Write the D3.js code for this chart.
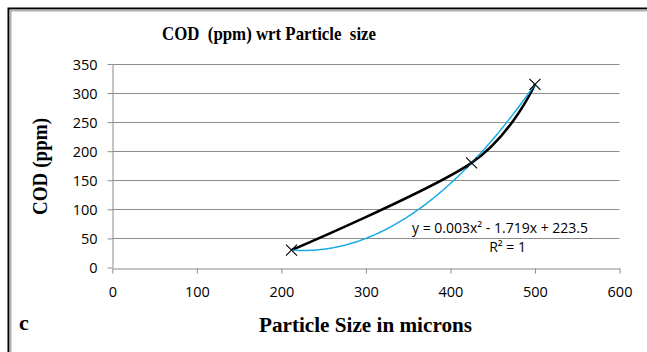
<!DOCTYPE html>
<html><head><meta charset="utf-8">
<script src="https://cdn.jsdelivr.net/npm/d3@7"></script>
<style>html,body{margin:0;padding:0;background:#fff;}svg{display:block;}</style>
</head><body>
<svg id="c" width="647" height="352"></svg>
<script>
const particleSize = [212, 425, 500];
const codValues = [30, 180, 315];
const xTicks = [0, 100, 200, 300, 400, 500, 600];
const yTicks = [0, 50, 100, 150, 200, 250, 300, 350];
const titleText = "COD  (ppm) wrt Particle  size";
const xTitle = "Particle Size in microns";
const yTitle = "COD (ppm)";
const panelLabel = "c";
const eqLabels = ["y = 0.003x\u00b2 - 1.719x + 223.5", "R\u00b2 = 1"];

const svg = d3.select("#c");
const W = 647, H = 352;
const serif = "'Liberation Serif','Times New Roman',serif";
const sans = "'Open Sans','Liberation Sans',Arial,sans-serif";

// frame
svg.append("path").attr("d", `M8.5,${H} V8.5 H${W}`).attr("fill","none").attr("stroke","#000").attr("stroke-width",2);
svg.append("path").attr("d", `M10.5,${H} V10.5 H${W}`).attr("fill","none").attr("stroke","#b0b0b0").attr("stroke-width",2);

const x = d3.scaleLinear().domain([0, 600]).range([112.3, 619.5]);
const y = d3.scaleLinear().domain([0, 350]).range([267.5, 64]);

// gridlines
svg.append("g").selectAll("line").data(yTicks.filter(d => d > 0)).join("line")
  .attr("x1", x(0)).attr("x2", x(600))
  .attr("y1", d => Math.round(y(d)) + 0.5).attr("y2", d => Math.round(y(d)) + 0.5)
  .attr("stroke", "#8c8c8c").attr("stroke-width", 1);

// axes
const xAxis = svg.append("g").attr("transform", `translate(0,${Math.round(y(0)) + 0.5})`)
  .call(d3.axisBottom(x).tickValues(xTicks).tickSize(5).tickSizeOuter(0).tickPadding(13));
const yAxis = svg.append("g").attr("transform", `translate(${Math.round(x(0)) + 0.5},0)`)
  .call(d3.axisLeft(y).tickValues(yTicks).tickSize(5).tickSizeOuter(0).tickPadding(10));
[xAxis, yAxis].forEach(g => {
  g.select(".domain").attr("stroke", "#8c8c8c");
  g.selectAll(".tick line").attr("stroke", "#8c8c8c");
  g.selectAll(".tick text").attr("font-family", sans).attr("font-size", 14.5).attr("fill", "#000");
});
xAxis.selectAll(".tick text").attr("dy", "0.71em");
yAxis.selectAll(".tick text").attr("dy", "0.36em");

// quadratic fit from data (exact for three points)
const [x0, x1, x2] = particleSize, [y0, y1, y2] = codValues;
const s1 = (y1 - y0) / (x1 - x0), s2 = (y2 - y1) / (x2 - x1);
const qa = (s2 - s1) / (x2 - x0);
const qb = s1 - qa * (x0 + x1);
const qc = y0 - qa * x0 * x0 - qb * x0;
const fitPts = d3.range(x0, x2 + 0.5, 2).map(v => [v, qa * v * v + qb * v + qc]);

const pts = particleSize.map((v, i) => [v, codValues[i]]);

// black smoothed data line
svg.append("path").datum(pts)
  .attr("d", d3.line().x(d => x(d[0])).y(d => y(d[1])).curve(d3.curveCatmullRom.alpha(0)))
  .attr("fill", "none").attr("stroke", "#000").attr("stroke-width", 2.5);

// trendline
svg.append("path").datum(fitPts)
  .attr("d", d3.line().x(d => x(d[0])).y(d => y(d[1])))
  .attr("fill", "none").attr("stroke", "#1aaae6").attr("stroke-width", 1.5);

// markers
const m = 5.5;
svg.append("g").selectAll("path").data(pts).join("path")
  .attr("d", d => { const cx = x(d[0]), cy = y(d[1]);
    return `M${cx - m},${cy - m}L${cx + m},${cy + m}M${cx - m},${cy + m}L${cx + m},${cy - m}`; })
  .attr("stroke", "#000").attr("stroke-width", 1.1).attr("fill", "none");

// equation labels
svg.append("text").attr("x", 588).attr("y", 233).attr("text-anchor", "end")
  .attr("font-family", sans).attr("font-size", 14).text(eqLabels[0]);
svg.append("text").attr("x", 526).attr("y", 252).attr("text-anchor", "end")
  .attr("font-family", sans).attr("font-size", 14).text(eqLabels[1]);

// titles
svg.append("text").attr("x", 162).attr("y", 40)
  .attr("font-family", serif).attr("font-weight", "bold").attr("font-size", 19.5)
  .attr("textLength", 214).attr("lengthAdjust", "spacingAndGlyphs")
  .style("white-space","pre").text(titleText);
svg.append("text").attr("x", 259).attr("y", 332)
  .attr("font-family", serif).attr("font-weight", "bold").attr("font-size", 21)
  .attr("textLength", 213).attr("lengthAdjust", "spacingAndGlyphs").text(xTitle);
svg.append("text").attr("transform", "translate(47,215) rotate(-90)")
  .attr("font-family", serif).attr("font-weight", "bold").attr("font-size", 20)
  .attr("textLength", 97).attr("lengthAdjust", "spacingAndGlyphs").text(yTitle);
svg.append("text").attr("x", 19).attr("y", 330)
  .attr("font-family", serif).attr("font-weight", "bold").attr("font-size", 22).text(panelLabel);
</script>
</body></html>
